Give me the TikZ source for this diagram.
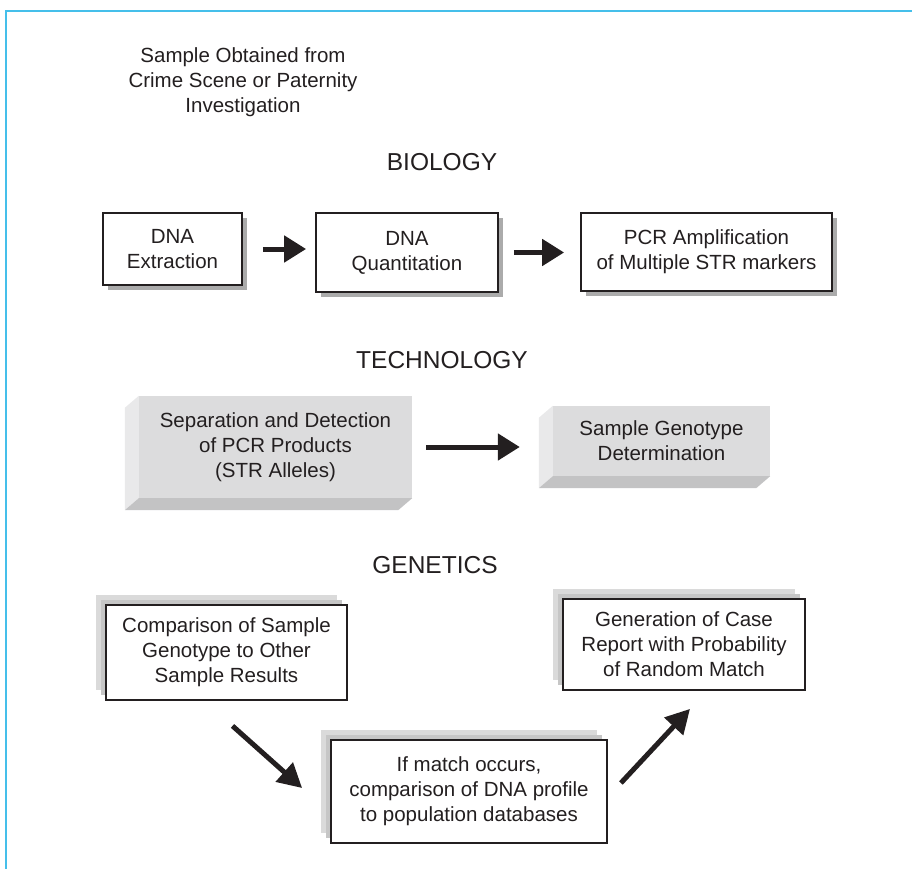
\documentclass[tikz,border=0pt]{standalone}
\usepackage{fontspec}
\setmainfont{Liberation Sans}
\usetikzlibrary{arrows.meta,shadows,calc}
\definecolor{frameblue}{HTML}{45BFEA}
\definecolor{ink}{HTML}{231F20}
\definecolor{shade}{HTML}{ABABAB}
\definecolor{facefront}{HTML}{DCDCDD}
\definecolor{faceleft}{HTML}{E9E9EA}
\definecolor{facebottom}{HTML}{C3C3C4}
\definecolor{layerback}{HTML}{DADADA}
\definecolor{layermid}{HTML}{C6C6C6}
\begin{document}
\begin{tikzpicture}[x=1pt,y=-1pt,
  every node/.style={text=ink, font=\fontsize{20.5}{25}\selectfont, align=center, inner sep=0pt},
  title/.style={font=\fontsize{24.5}{28}\selectfont},
  biobox/.style={draw=ink, line width=1.8pt, fill=white,
    drop shadow={shadow xshift=5pt, shadow yshift=-5pt, fill=shade, opacity=1}},
  techface/.style={fill=facefront},
  stackbox/.style={draw=ink, line width=1.8pt, fill=white,
    general shadow={shadow xshift=-10pt, shadow yshift=10pt, fill=layerback},
    general shadow={shadow xshift=-5pt, shadow yshift=5pt, fill=layermid}},
  bigarrow/.style={draw=ink, line width=5pt, -{Triangle[length=22pt,width=26pt]}},
  diagarrow/.style={draw=ink, line width=5pt, -{Triangle[length=24pt,width=25pt]}}
]
\useasboundingbox (0,0) rectangle (912,869);
\draw[frameblue, line width=2pt] (6,869) -- (6,11) -- (912,11);

\node (sample) at (243,82) {Sample Obtained from\\Crime Scene or Paternity\\Investigation};

\node[title] (bio) at (442,162.5) {BIOLOGY};
\node[biobox, minimum width=139, minimum height=72] (ext) at (172.5,249) {DNA\\Extraction};
\node[biobox, minimum width=182, minimum height=79] (quant) at (407,252.5) {DNA\\Quantitation};
\node[biobox, minimum width=251, minimum height=78] (pcr) at (706.5,252) {PCR Amplification\\of Multiple STR markers};
\draw[bigarrow, shorten <=20pt, shorten >=9pt] (ext.east) -- (ext.east -| quant.west);
\draw[bigarrow, shorten <=15pt, shorten >=16pt] (quant.east) -- (quant.east -| pcr.west);

\node[title] (tech) at (442,360) {TECHNOLOGY};
\node[techface, minimum width=273, minimum height=102] (sep) at (275.5,447) {Separation and Detection\\of PCR Products\\(STR Alleles)};
\fill[faceleft] (sep.north west) -- ++(-14,12) -- ($(sep.south west)+(-14,12)$) -- (sep.south west) -- cycle;
\fill[facebottom] (sep.south west) -- ++(-14,12) -- ($(sep.south east)+(-14,12)$) -- (sep.south east) -- cycle;
\node[techface, minimum width=217, minimum height=70] (geno) at (661.5,441) {Sample Genotype\\Determination};
\fill[faceleft] (geno.north west) -- ++(-14,12) -- ($(geno.south west)+(-14,12)$) -- (geno.south west) -- cycle;
\fill[facebottom] (geno.south west) -- ++(-14,12) -- ($(geno.south east)+(-14,12)$) -- (geno.south east) -- cycle;
\draw[bigarrow, shorten <=14pt, shorten >=33pt] (sep.east) -- (sep.east -| geno.west);

\node[title] (gen) at (435,565) {GENETICS};
\node[stackbox, minimum width=241, minimum height=95] (comp) at (226.5,652.5) {Comparison of Sample\\Genotype to Other\\Sample Results};
\node[stackbox, minimum width=276, minimum height=103] (match) at (469,791.5) {If match occurs,\\comparison of DNA profile\\to population databases};
\node[stackbox, minimum width=242, minimum height=91] (report) at (684,644.5) {Generation of Case\\Report with Probability\\of Random Match};
\draw[diagarrow] ($(comp.south)+(6,25)$) -- ($(match.west)+(-28,-3.5)$);
\draw[diagarrow] ($(match.east)+(13,-8.5)$) -- ($(report.south)+(6,18)$);
\end{tikzpicture}
\end{document}
